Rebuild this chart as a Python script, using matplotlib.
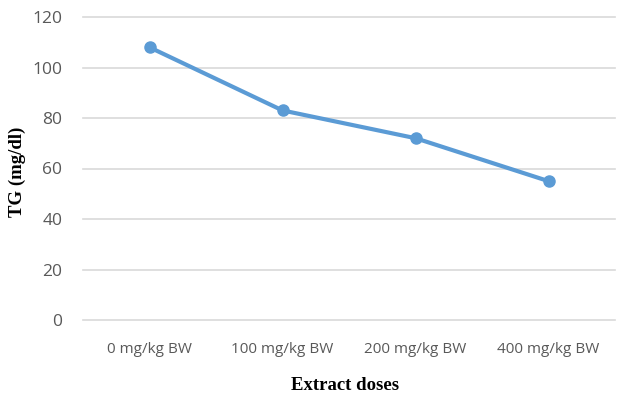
import numpy as np
import matplotlib.pyplot as plt

doses = ['0 mg/kg BW', '100 mg/kg BW', '200 mg/kg BW', '400 mg/kg BW']
tg_values = [108, 83, 72, 55]
y_ticks = [0, 20, 40, 60, 80, 100, 120]

fig = plt.figure(figsize=(6.19, 3.96), dpi=100)
ax = fig.add_axes([83 / 619, 1 - 320 / 396, 532 / 619, 303 / 396])

x = np.arange(len(doses))
ax.plot(x, tg_values, color='#5B9BD5', linewidth=3, marker='o',
        markersize=8, solid_capstyle='round', zorder=3)

ax.set_xlim(-0.5, len(doses) - 0.5)
ax.set_ylim(0, 120)
ax.set_yticks(y_ticks)
ax.set_xticks(x)
ax.set_xticklabels(doses)

ax.grid(axis='y', color='#D9D9D9', linewidth=1.2)
ax.set_axisbelow(True)
for line in ax.get_ygridlines():
    line.set_clip_on(False)
for side in ['top', 'right', 'left', 'bottom']:
    ax.spines[side].set_visible(False)

ax.tick_params(axis='both', length=0, colors='#595959')
ax.tick_params(axis='y', labelsize=12.5, pad=15)
ax.tick_params(axis='x', labelsize=11, pad=16)
for lab in ax.get_xticklabels() + ax.get_yticklabels():
    lab.set_family(['Open Sans', 'DejaVu Sans'])

# axis titles placed on the figure
fig.text(17 / 619, 1 - 172 / 396, 'TG (mg/dl)', family='Liberation Serif',
         fontweight='bold', fontsize=13.5, rotation=90, ha='center', va='center')
fig.text(345 / 619, 1 - 385 / 396, 'Extract doses', family='Liberation Serif',
         fontweight='bold', fontsize=13.5, ha='center', va='center')

fig.savefig('out.png', dpi=100)
